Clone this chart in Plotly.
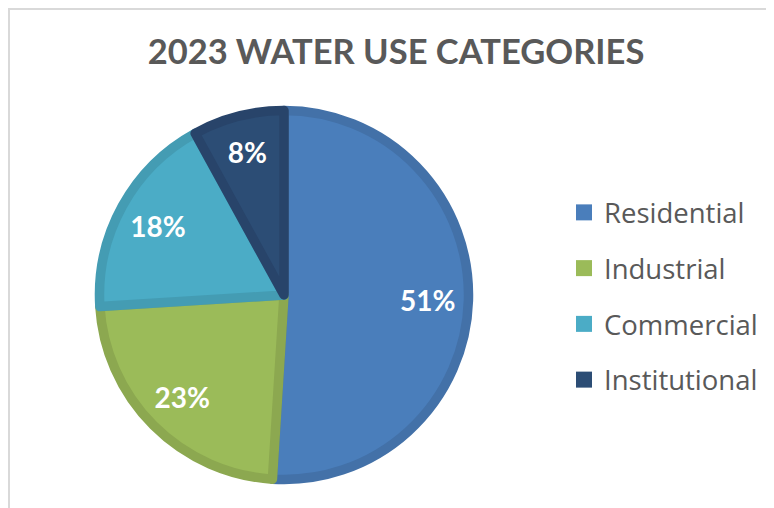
import plotly.graph_objects as go

categories = ["Residential", "Industrial", "Commercial", "Institutional"]
values = [51, 23, 18, 8]
fill_colors = ["#4A7EBB", "#9BBB59", "#4BACC6", "#2C4D75"]
edge_colors = ["#4371A8", "#8CA850", "#449CB3", "#28446A"]
title_text = "2023 WATER USE CATEGORIES"

W, H = 774, 508
OFF = 8  # page body margin
cx, cy, r = 284 - OFF, 295 - OFF, 184.5

def px_x(x):
    return x / W

def px_y(y):
    return 1 - y / H

dom = dict(x=[(cx - r) / W, (cx + r) / W], y=[(H - cy - r) / H, (H - cy + r) / H])

fig = go.Figure()
fig.add_trace(go.Pie(
    labels=categories,
    values=values,
    sort=False,
    direction="clockwise",
    rotation=0,
    marker=dict(colors=fill_colors, line=dict(color=edge_colors, width=9.5)),
    textinfo="none",
    domain=dom,
    showlegend=False,
    hoverinfo="label+percent",
))
# label layer: transparent ring so percentages sit out toward the rim
fig.add_trace(go.Pie(
    labels=categories,
    values=values,
    sort=False,
    direction="clockwise",
    rotation=0,
    hole=0.56,
    marker=dict(colors=["rgba(0,0,0,0)"] * len(values), line=dict(width=0)),
    texttemplate="%{percent:.0%}",
    textposition="inside",
    insidetextorientation="horizontal",
    textfont=dict(family="Lato", size=28, color="white", weight="bold"),
    domain=dom,
    showlegend=False,
    hoverinfo="skip",
))

for name, col in zip(categories, fill_colors):
    fig.add_trace(go.Scatter(
        x=[None], y=[None], mode="markers", name=name, legendgroup=name,
        marker=dict(symbol="square", size=16, color=col),
    ))

fig.update_layout(
    width=W, height=H,
    margin=dict(l=0, r=0, t=0, b=0),
    paper_bgcolor="white", plot_bgcolor="white",
    xaxis=dict(visible=False), yaxis=dict(visible=False),
    title=dict(text=title_text, x=px_x(396 - OFF), y=px_y(52 - OFF), xanchor="center", yanchor="middle",
               font=dict(family="Lato", size=34.5, color="#595959", weight="bold")),
    legend=dict(x=px_x(564 - OFF), y=px_y(296 - OFF), xanchor="left", yanchor="middle",
                font=dict(family="Open Sans", size=27.5, color="#595959"),
                tracegroupgap=17, itemsizing="trace", bgcolor="rgba(0,0,0,0)"),
    shapes=[dict(type="rect", xref="paper", yref="paper",
                 x0=px_x(1), x1=1.2, y0=-0.2, y1=px_y(1),
                 line=dict(color="#D9D9D9", width=2), fillcolor="rgba(0,0,0,0)", layer="below")],
)

fig.write_html("out.html")
